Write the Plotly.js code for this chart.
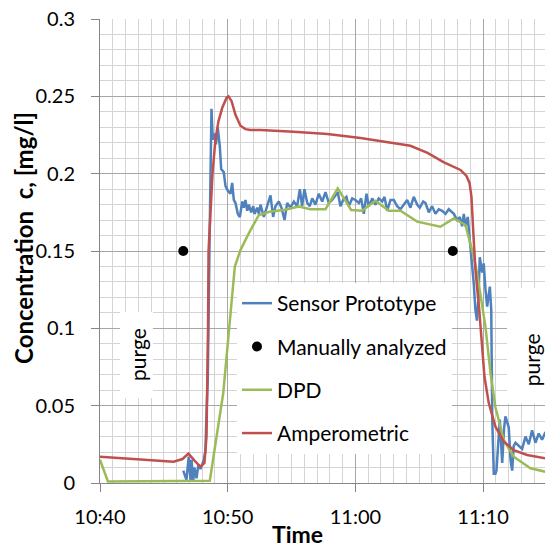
<!DOCTYPE html>
<html>
<head>
<meta charset="utf-8">
<script src="https://cdn.plot.ly/plotly-3.0.1.min.js"></script>
<style>html,body{margin:0;padding:0;background:#fff;overflow:hidden;}</style>
</head>
<body>
<div id="chart" style="width:545px;height:549px;"></div>
<script>
// Time in minutes after 10:40
var xTickVals = [0, 10, 20, 30];
var xTickLabels = ['10:40', '10:50', '11:00', '11:10'];
var yTickVals = [0, 0.05, 0.1, 0.15, 0.2, 0.25, 0.3];
var yTickLabels = ['0', '0.05', '0.1', '0.15', '0.2', '0.25', '0.3'];

var sensorTime = [6.52,6.77,6.95,7.09,7.17,7.30,7.40,7.56,7.71,7.87,8.13,8.26,8.34,8.44,8.57,8.65,8.73,8.83,8.99,9.08,9.22,9.38,9.49,9.69,9.83,10.01,10.22,10.35,10.48,10.61,10.79,10.95,11.14,11.26,11.39,11.53,11.65,11.84,12.00,12.10,12.31,12.44,12.57,12.83,13.04,13.35,13.56,13.74,14.00,14.21,14.45,14.66,14.92,15.18,15.44,15.65,15.83,16.01,16.23,16.43,16.62,16.87,17.13,17.40,17.66,17.92,18.18,18.36,18.62,18.83,19.04,19.30,19.48,19.75,20.01,20.27,20.45,20.66,20.87,21.05,21.32,21.57,21.83,22.10,22.28,22.49,22.75,23.01,23.27,23.53,23.79,24.06,24.31,24.57,24.84,25.04,25.31,25.49,25.75,26.01,26.27,26.53,26.80,27.06,27.31,27.45,27.71,27.97,28.18,28.36,28.49,28.62,28.80,28.96,29.15,29.27,29.40,29.52,29.64,29.74,29.93,30.05,30.19,30.32,30.53,30.64,30.72,30.84,30.97,31.05,31.31,31.50,31.64,31.75,32.01,32.15,32.28,32.40,32.54,32.80,33.06,33.32,33.58,33.84,34.10,34.36,34.62,34.89];
var sensorConc = [0.008,0.002,0.017,0.002,0.015,0.001,0.010,0.003,0.012,0.009,0.015,0.021,0.045,0.067,0.150,0.210,0.242,0.222,0.226,0.219,0.230,0.218,0.203,0.201,0.192,0.189,0.187,0.194,0.183,0.181,0.174,0.172,0.182,0.178,0.183,0.176,0.180,0.175,0.179,0.174,0.178,0.174,0.180,0.172,0.178,0.186,0.172,0.179,0.182,0.178,0.170,0.181,0.178,0.182,0.179,0.190,0.179,0.190,0.181,0.179,0.184,0.180,0.187,0.182,0.188,0.181,0.183,0.185,0.188,0.179,0.183,0.185,0.179,0.184,0.183,0.181,0.184,0.174,0.187,0.179,0.184,0.180,0.184,0.182,0.185,0.176,0.183,0.183,0.179,0.177,0.180,0.183,0.178,0.185,0.180,0.178,0.182,0.181,0.175,0.179,0.174,0.177,0.176,0.174,0.177,0.176,0.174,0.170,0.172,0.166,0.174,0.166,0.172,0.157,0.140,0.129,0.112,0.105,0.120,0.146,0.136,0.142,0.125,0.114,0.127,0.112,0.041,0.006,0.006,0.008,0.041,0.013,0.035,0.043,0.036,0.015,0.008,0.024,0.026,0.024,0.022,0.030,0.025,0.034,0.026,0.032,0.028,0.033];

var manualTime = [6.52, 27.63];
var manualConc = [0.15, 0.15];

var dpdTime = [0,0.62,8.60,9.65,10.56,11.00,11.65,12.44,13.35,14.39,15.57,16.48,17.66,18.62,19.67,20.53,21.57,22.62,23.53,24.84,26.66,27.71,28.62,28.88,29.27,29.53,29.80,30.19,30.58,30.97,31.62,32.40,33.71,34.89];
var dpdConc = [0.015,0.001,0.0015,0.058,0.140,0.1506,0.1614,0.1733,0.1755,0.1765,0.1787,0.177,0.177,0.1905,0.1765,0.176,0.1825,0.176,0.176,0.169,0.1657,0.171,0.1668,0.159,0.1463,0.1356,0.122,0.101,0.071,0.049,0.0278,0.017,0.0095,0.0073];

var ampTime = [0,5.76,6.46,6.93,7.40,7.87,8.18,8.34,8.46,8.50,8.81,9.04,9.28,9.59,9.91,10.06,10.30,10.61,11.00,11.39,11.78,12.57,15.15,17.81,20.40,22.98,24.31,25.65,26.90,28.23,28.70,28.94,29.09,29.25,29.40,29.70,29.93,30.11,30.45,30.97,31.62,32.40,33.45,34.89];
var ampConc = [0.017,0.0138,0.0155,0.019,0.0145,0.0105,0.013,0.030,0.100,0.150,0.200,0.222,0.234,0.243,0.249,0.250,0.247,0.238,0.231,0.2288,0.2283,0.2282,0.2271,0.2256,0.2230,0.2200,0.2180,0.2134,0.2075,0.2024,0.1985,0.1940,0.1850,0.1600,0.1380,0.112,0.0905,0.0687,0.0515,0.0364,0.0267,0.0213,0.0181,0.0160];

var FONT = 'Lato, "Open Sans", sans-serif';

var traces = [
  {x: sensorTime, y: sensorConc, type: 'scatter', mode: 'lines', name: 'Sensor Prototype', legendgroup: 'a',
   line: {color: '#4F81BD', width: 2.5}},
  {x: manualTime, y: manualConc, type: 'scatter', mode: 'markers', name: 'Manually analyzed', legendgroup: 'b',
   marker: {color: '#000000', size: 10}},
  {x: dpdTime, y: dpdConc, type: 'scatter', mode: 'lines', name: 'DPD', legendgroup: 'c',
   line: {color: '#9BBB59', width: 2.5}},
  {x: ampTime, y: ampConc, type: 'scatter', mode: 'lines', name: 'Amperometric', legendgroup: 'd',
   line: {color: '#C0504D', width: 2.5}}
];

var layout = {
  width: 545, height: 549,
  margin: {l: 100, r: 0, t: 19, b: 66, pad: 0},
  paper_bgcolor: '#ffffff', plot_bgcolor: '#ffffff',
  font: {family: FONT, size: 20, color: '#000000'},
  showlegend: true,
  xaxis: {
    range: [0, 34.85], tickmode: 'array', tickvals: xTickVals, ticktext: xTickLabels,
    showgrid: true, gridcolor: '#a6a6a6', gridwidth: 1,
    minor: {tickmode: 'linear', tick0: 0, dtick: 1, showgrid: true, gridcolor: '#d4d4d4', gridwidth: 1, ticks: ''},
    showline: true, linecolor: '#868686', linewidth: 1,
    ticks: 'outside', ticklen: 8, tickcolor: '#868686', zeroline: false,
    ticklabelstandoff: 8, tickfont: {size: 20}
  },
  yaxis: {
    range: [0, 0.3], tickmode: 'array', tickvals: yTickVals, ticktext: yTickLabels,
    showgrid: true, gridcolor: '#a6a6a6', gridwidth: 1,
    minor: {tickmode: 'linear', tick0: 0, dtick: 0.01, showgrid: true, gridcolor: '#d4d4d4', gridwidth: 1, ticks: ''},
    showline: true, linecolor: '#868686', linewidth: 1,
    ticks: 'outside', ticklen: 8, tickcolor: '#868686', zeroline: false,
    ticklabelstandoff: 12, tickfont: {size: 20}
  },
  legend: {
    x: 0.3078, y: 0.431, xanchor: 'left', yanchor: 'top',
    bgcolor: '#ffffff', borderwidth: 0,
    font: {size: 21, family: FONT},
    traceorder: 'grouped', tracegroupgap: 13
  },
  shapes: [
    {type: 'rect', xref: 'paper', yref: 'paper', x0: 0.0449, x1: 0.119, y0: 0.183, y1: 0.3685,
     fillcolor: '#ffffff', line: {width: 0}},
    {type: 'rect', xref: 'paper', yref: 'paper', x0: 0.9146, x1: 1.02, y0: 0.172, y1: 0.420,
     fillcolor: '#ffffff', line: {width: 0}}
  ],
  annotations: [
    {text: 'purge', xref: 'paper', yref: 'paper', x: 0.0854, y: 0.2759, xanchor: 'center', yanchor: 'middle',
     textangle: -90, showarrow: false, font: {size: 21}},
    {text: 'purge', xref: 'paper', yref: 'paper', x: 0.969, y: 0.265, xanchor: 'center', yanchor: 'middle',
     textangle: -90, showarrow: false, font: {size: 21}},
    {text: 'Concentration\u00a0 c, [mg/l]', xref: 'paper', yref: 'paper', x: -0.1719, y: 0.527,
     xanchor: 'center', yanchor: 'middle', textangle: -90, showarrow: false, font: {size: 24, weight: 'bold'}},
    {text: 'Time', xref: 'paper', yref: 'paper', x: 0.4427, y: -0.109, xanchor: 'center', yanchor: 'middle',
     showarrow: false, font: {size: 23, weight: 'bold'}}
  ]
};

Plotly.newPlot('chart', traces, layout, {displayModeBar: false, staticPlot: true});
</script>
</body>
</html>
